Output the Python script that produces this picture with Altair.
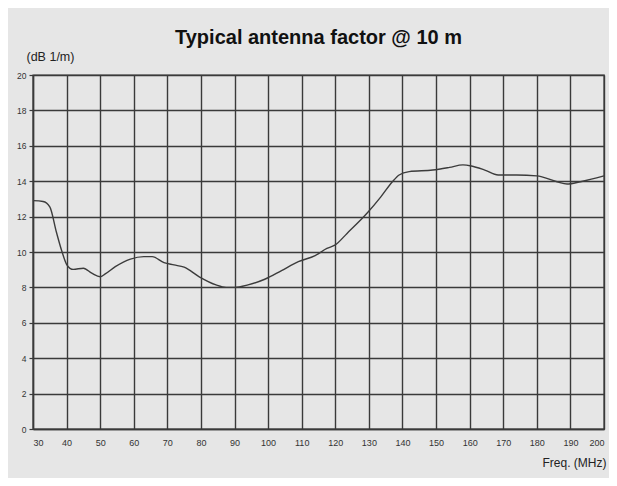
import altair as alt
import pandas as pd

freq_mhz = [30, 33, 35, 37, 38.5, 40, 41, 42, 45, 47.5, 50, 51.5, 54.5, 59, 63, 65.5,
            69, 72, 75, 79.5, 84.5, 87.5, 90, 94, 99, 104, 109, 114, 117.5, 120,
            123.5, 129.5, 133.5, 137, 139, 142, 149, 154, 158, 160.5, 164.5, 168.5,
            174, 180, 186, 189, 193, 200]
af_db = [12.9, 12.85, 12.55, 11.1, 10.1, 9.3, 9.08, 9.02, 9.08, 8.8, 8.6, 8.76, 9.17,
         9.6, 9.74, 9.74, 9.4, 9.27, 9.14, 8.6, 8.14, 8.0, 8.0, 8.14, 8.46, 8.95, 9.45,
         9.8, 10.2, 10.4, 11.05, 12.2, 13.1, 13.97, 14.35, 14.54, 14.63, 14.78, 14.92,
         14.86, 14.63, 14.35, 14.35, 14.3, 13.97, 13.84, 13.97, 14.3]
x_ticks = list(range(30, 201, 10))
y_ticks = list(range(0, 21, 2))

df = pd.DataFrame({"freq": freq_mhz, "af": af_db})

FONT = "Liberation Sans"
GRID = "#3a3a3a"
BG = "#e6e6e6"

chart = (
    alt.Chart(df)
    .mark_line(color="#3c3c3c", strokeWidth=1.4, interpolate="monotone")
    .encode(
        x=alt.X(
            "freq:Q",
            scale=alt.Scale(domain=[30, 200], nice=False, zero=False),
            axis=alt.Axis(
                values=x_ticks, title="Freq. (MHz)", tickSize=0, labelPadding=9,
                labelFont=FONT, labelFontSize=9, labelColor="#333",
                titleFont=FONT, titleFontSize=12, titleFontWeight="normal", titleColor="#222",
                titleAlign="right", titleBaseline="middle", titleX=573, titleY=33,
                grid=True, gridColor=GRID, gridWidth=1.4, gridOpacity=1,
                domainColor=GRID, domainWidth=1.4,
            ),
        ),
        y=alt.Y(
            "af:Q",
            scale=alt.Scale(domain=[0, 20], nice=False),
            axis=alt.Axis(
                values=y_ticks, title="(dB 1/m)", tickSize=4, tickColor=GRID, tickWidth=1.2,
                labelPadding=3, labelFont=FONT, labelFontSize=8.5, labelColor="#333",
                titleFont=FONT, titleFontSize=12.5, titleFontWeight="normal", titleColor="#222",
                titleAngle=0, titleAlign="left", titleBaseline="middle", titleX=-7, titleY=-18.5,
                grid=True, gridColor=GRID, gridWidth=1.4, gridOpacity=1,
                domainColor=GRID, domainWidth=1.4,
            ),
        ),
    )
    .properties(
        width=571,
        height=354,
        title=alt.TitleParams(
            "Typical antenna factor @ 10 m", font=FONT, fontSize=20, fontWeight="bold",
            color="#111", anchor="middle", frame="group", offset=3,
        ),
        padding={"left": 25, "top": 67, "right": 5, "bottom": 49},
        autosize=alt.AutoSizeParams(type="none"),
        background=BG,
    )
    .configure_view(stroke=GRID, strokeWidth=1.4, fill=BG)
)

chart.save("out.html", embed_options={"renderer": "svg", "actions": False})
